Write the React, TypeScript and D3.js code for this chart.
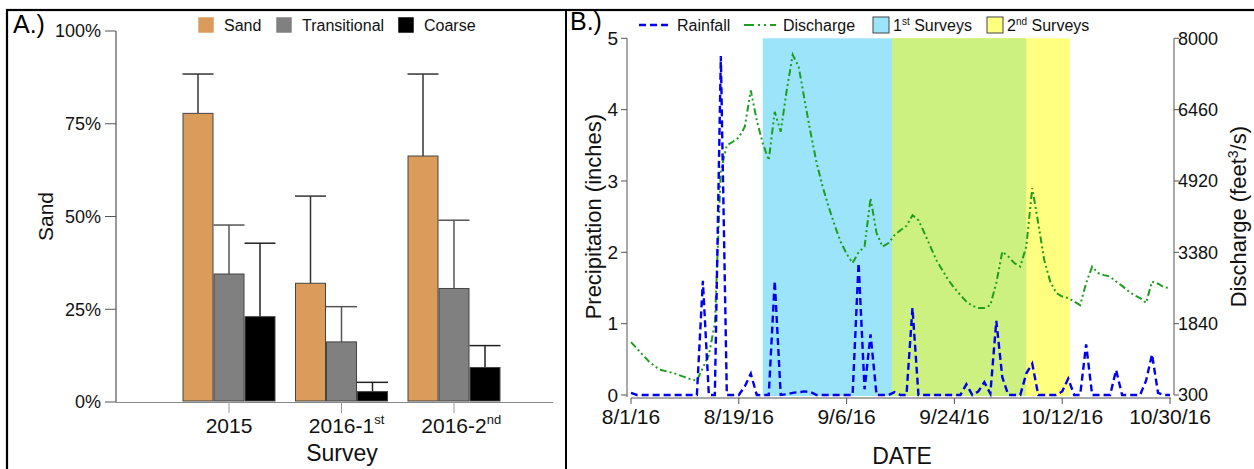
import React from "react";
import * as d3 from "d3";

// ---------- Panel A data ----------
const categoryBase = ["2015", "2016-1", "2016-2"];
const categorySup = ["", "st", "nd"];
const seriesNames = ["Sand", "Transitional", "Coarse"];
const sandMean = [0.778, 0.32, 0.663];
const sandUpper = [0.884, 0.555, 0.884];
const transMean = [0.345, 0.162, 0.306];
const transUpper = [0.477, 0.257, 0.49];
const coarseMean = [0.23, 0.028, 0.093];
const coarseUpper = [0.428, 0.053, 0.152];
const pctTicks = [0, 0.25, 0.5, 0.75, 1];

// ---------- Panel B data ----------
const startDate = "2016-08-01";
const rainfall = [
  0.03, 0, 0, 0, 0, 0, 0, 0, 0, 0, 0, 0, 1.6, 0, 0, 4.75, 0, 0, 0, 0.12,
  0.3, 0, 0, 0, 1.6, 0, 0.01, 0.03, 0.04, 0.05, 0.04, 0, 0, 0, 0, 0, 0, 0, 1.85, 0.08,
  0.85, 0, 0, 0, 0.04, 0, 0, 1.22, 0, 0, 0, 0, 0, 0, 0, 0, 0.15, 0, 0.05, 0.18,
  0.02, 1.04, 0.25, 0, 0, 0, 0.3, 0.44, 0, 0, 0, 0, 0.05, 0.23, 0, 0, 0.71, 0, 0, 0,
  0, 0.35, 0, 0, 0, 0, 0.2, 0.57, 0.03, 0, 0,
];
const discharge = [
  1440, 1301, 1162, 1024, 916, 839, 808, 777, 731, 685, 639, 608, 885, 1162, 1840, 5151, 5690, 5767, 5859, 6090,
  6876, 6229, 5736, 5367, 6414, 5983, 6876, 7646, 7384, 6660, 5952, 5305, 4797, 4366, 3965, 3611, 3349, 3149, 3380, 3503,
  4550, 3796, 3503, 3580, 3750, 3857, 3950, 4181, 4073, 3796, 3503, 3211, 2995, 2779, 2610, 2456, 2317, 2225, 2179, 2179,
  2240, 2718, 3395, 3288, 3149, 3072, 3503, 4766, 4011, 3211, 2749, 2502, 2425, 2394, 2317, 2240, 2718, 3072, 2933, 2887,
  2856, 2749, 2656, 2548, 2456, 2394, 2287, 2749, 2702, 2625, 2610,
];
const firstSurveys = ["2016-08-23T00:00", "2016-10-06T00:00"];
const secondSurveys = ["2016-09-13T14:00", "2016-10-13T07:00"];
const dateTicks = ["2016-08-01", "2016-08-19", "2016-09-06", "2016-09-24", "2016-10-12", "2016-10-30"];
const precipTicks = [0, 1, 2, 3, 4, 5];
const dischargeTicks = [300, 1840, 3380, 4920, 6460, 8000];

const FONT = "'Liberation Sans', Arial, Helvetica, sans-serif";
const colors = {
  sand: "#DB9C5B",
  trans: "#808080",
  coarse: "#000000",
  cyan: "#9BE4FA",
  yellow: "#FFFF80",
  green: "#CDF180",
  rain: "#0000F0",
  dis: "#1E9E1E",
};

function measure(text: string, size: number) {
  const c = document.createElement("canvas").getContext("2d");
  if (!c) return text.length * size * 0.55;
  c.font = `${size}px 'Liberation Sans', Arial`;
  return c.measureText(text).width;
}

function PanelA() {
  const y = d3.scaleLinear().domain([0, 1]).range([402, 31]);
  const x0 = d3.scaleBand().domain(categoryBase).range([172.75, 510.25]).padding(0);
  const x1 = d3.scaleBand().domain(seriesNames).range([-46.5, 46.5]).padding(0);
  const series = [
    { name: "Sand", mean: sandMean, upper: sandUpper, fill: colors.sand, err: "#333" },
    { name: "Transitional", mean: transMean, upper: transUpper, fill: colors.trans, err: "#555" },
    { name: "Coarse", mean: coarseMean, upper: coarseUpper, fill: colors.coarse, err: "#222" },
  ];
  const fmt = d3.format(".0%");
  const axisX = 116;
  const legend = [
    { name: "Sand", fill: colors.sand, sx: 198, tx: 224 },
    { name: "Transitional", fill: colors.trans, sx: 276, tx: 302 },
    { name: "Coarse", fill: colors.coarse, sx: 398, tx: 424 },
  ];
  return (
    <g fontFamily={FONT}>
      <text x={13} y={33} fontSize={25} fill="#000">A.)</text>
      {legend.map((l) => (
        <g key={l.name}>
          <rect x={l.sx} y={17} width={16} height={16} fill={l.fill} stroke="#fff" strokeWidth={0.5} />
          <text x={l.tx} y={31} fontSize={16} fill="#111">{l.name}</text>
        </g>
      ))}
      <line x1={axisX} x2={axisX} y1={y(1)} y2={y(0)} stroke="#333" strokeWidth={1} />
      {pctTicks.map((t) => (
        <g key={t}>
          <line x1={axisX - 11} x2={axisX} y1={y(t)} y2={y(t)} stroke="#555" strokeWidth={1} />
          <text x={axisX - 15} y={y(t)} dy="0.35em" textAnchor="end" fontSize={18} fill="#111">
            {fmt(t)}
          </text>
        </g>
      ))}
      <text transform={`translate(46,${(y(0) + y(1)) / 2}) rotate(-90)`} textAnchor="middle" dy="0.35em" fontSize={21} fill="#111">
        Sand
      </text>
      {series.map((s) =>
        categoryBase.map((c, i) => {
          const cx = (x0(c) as number) + x0.bandwidth() / 2;
          const bx = cx + (x1(s.name) as number);
          const bw = x1.bandwidth();
          const mid = bx + bw / 2;
          return (
            <g key={s.name + c}>
              <line x1={mid} x2={mid} y1={y(s.mean[i])} y2={y(s.upper[i])} stroke={s.err} strokeWidth={1.5} />
              <line x1={bx} x2={bx + bw} y1={y(s.upper[i])} y2={y(s.upper[i])} stroke={s.err} strokeWidth={1.5} />
              <rect x={bx + 0.5} y={y(s.mean[i])} width={bw - 1} height={y(0) - y(s.mean[i]) - 1} fill={s.fill} stroke="#444" strokeWidth={1} />
            </g>
          );
        })
      )}
      <line x1={axisX} x2={553} y1={y(0) + 0.5} y2={y(0) + 0.5} stroke="#888" strokeWidth={1.2} />
      {categoryBase.map((c, i) => {
        const cx = (x0(c) as number) + x0.bandwidth() / 2;
        const w = measure(c, 21);
        return (
          <g key={c}>
            <line x1={cx} x2={cx} y1={y(0)} y2={y(0) + 11} stroke="#999" strokeWidth={1} />
            <text x={cx - w / 2} y={433} fontSize={21} fill="#111">
              {c}
              {categorySup[i] ? (
                <tspan dy={-9} fontSize={13}>{categorySup[i]}</tspan>
              ) : null}
            </text>
          </g>
        );
      })}
      <text x={342} y={461} textAnchor="middle" fontSize={23} fill="#111">Survey</text>
    </g>
  );
}

function PanelB() {
  const parseDay = d3.timeParse("%Y-%m-%d");
  const parseDT = d3.timeParse("%Y-%m-%dT%H:%M");
  const start = parseDay(startDate) as Date;
  const days = rainfall.map((_, i) => d3.timeDay.offset(start, i));
  const x = d3
    .scaleTime()
    .domain([start, parseDay("2016-10-30") as Date])
    .range([631, 1170]);
  const yL = d3.scaleLinear().domain([0, 5]).range([395, 38.3]);
  const yR = d3.scaleLinear().domain([300, 8000]).range([395, 38.3]);
  const rainLine = d3
    .line<number>()
    .x((_, i) => x(days[i]))
    .y((d) => yL(d));
  const disLine = d3
    .line<number>()
    .x((_, i) => x(days[i]))
    .y((d) => yR(d));
  const s1 = firstSurveys.map((s) => parseDT(s) as Date);
  const s2 = secondSurveys.map((s) => parseDT(s) as Date);
  const ovStart = s2[0] > s1[0] ? s2[0] : s1[0];
  const ovEnd = s2[1] < s1[1] ? s2[1] : s1[1];
  const fmtDate = d3.timeFormat("%-m/%-d/%y");
  const top = yL(5);
  const bottom = 396;
  const leftAxis = 627;
  const rightAxis = 1174;
  return (
    <g fontFamily={FONT}>
      <text x={570} y={30} fontSize={25} fill="#000">B.)</text>
      <rect x={x(s1[0])} y={top} width={x(s1[1]) - x(s1[0])} height={bottom - top} fill={colors.cyan} />
      <rect x={x(s2[0])} y={top} width={x(s2[1]) - x(s2[0])} height={bottom - top} fill={colors.yellow} />
      <rect x={x(ovStart)} y={top} width={x(ovEnd) - x(ovStart)} height={bottom - top} fill={colors.green} />
      <path d={disLine(discharge) || ""} fill="none" stroke={colors.dis} strokeWidth={2} strokeDasharray="7,3,2,3,2,3" />
      <path d={rainLine(rainfall) || ""} fill="none" stroke={colors.rain} strokeWidth={2.4} strokeDasharray="7,4" />
      <line x1={leftAxis} x2={leftAxis} y1={top} y2={397} stroke="#555" strokeWidth={1} />
      {precipTicks.map((t) => (
        <g key={t}>
          <line x1={leftAxis - 6} x2={leftAxis} y1={yL(t)} y2={yL(t)} stroke="#555" />
          <text x={leftAxis - 9} y={yL(t)} dy="0.35em" textAnchor="end" fontSize={19} fill="#111">{t}</text>
        </g>
      ))}
      <text transform={`translate(593,${(yL(0) + yL(5)) / 2}) rotate(-90)`} textAnchor="middle" dy="0.35em" fontSize={22} fill="#111">
        Precipitation (inches)
      </text>
      <line x1={rightAxis} x2={rightAxis} y1={top} y2={yR(300)} stroke="#555" strokeWidth={1} />
      {dischargeTicks.map((t) => (
        <g key={t}>
          <line x1={rightAxis} x2={rightAxis + 5} y1={yR(t)} y2={yR(t)} stroke="#555" />
          <text x={rightAxis + 4} y={yR(t)} dy="0.35em" fontSize={18} fill="#111">{t}</text>
        </g>
      ))}
      <text transform={`translate(1238,${(yR(300) + yR(8000)) / 2}) rotate(-90)`} textAnchor="middle" dy="0.35em" fontSize={22} fill="#111">
        Discharge (feet<tspan dy={-8} fontSize={14}>3</tspan><tspan dy={8}>/s)</tspan>
      </text>
      <line x1={631} x2={1171} y1={398} y2={398} stroke="#555" strokeWidth={1} />
      {dateTicks.map((t) => {
        const d = parseDay(t) as Date;
        return (
          <g key={t}>
            <line x1={x(d)} x2={x(d)} y1={398} y2={404} stroke="#555" />
            <text x={x(d)} y={424} textAnchor="middle" fontSize={21} fill="#111">{fmtDate(d)}</text>
          </g>
        );
      })}
      <text x={902} y={464} textAnchor="middle" fontSize={23} fill="#111">DATE</text>
      <line x1={639} x2={671} y1={25} y2={25} stroke={colors.rain} strokeWidth={2.4} strokeDasharray="7,4" />
      <text x={677} y={31} fontSize={16} fill="#111">Rainfall</text>
      <line x1={744} x2={776} y1={25} y2={25} stroke={colors.dis} strokeWidth={2} strokeDasharray="10,4,2,4,2,4" />
      <text x={783} y={31} fontSize={16} fill="#111">Discharge</text>
      <rect x={873} y={17} width={16} height={16} fill={colors.cyan} stroke="#444" strokeWidth={1} />
      <text x={893} y={31} fontSize={16} fill="#111">
        1<tspan dy={-6} fontSize={10}>st</tspan><tspan dy={6}> Surveys</tspan>
      </text>
      <rect x={987} y={17} width={16} height={16} fill={colors.yellow} stroke="#444" strokeWidth={1} />
      <text x={1007} y={31} fontSize={16} fill="#111">
        2<tspan dy={-6} fontSize={10}>nd</tspan><tspan dy={6}> Surveys</tspan>
      </text>
    </g>
  );
}

export default function App() {
  return (
    <svg
      width={1254}
      height={469}
      viewBox="0 0 1254 469"
      style={{ position: "fixed", left: 0, top: 0, background: "#fff" }}
    >
      <rect x={0} y={0} width={1254} height={469} fill="#fff" />
      <PanelA />
      <PanelB />
      <rect x={7} y={10} width={1260} height={480} fill="none" stroke="#000" strokeWidth={2.2} />
      <line x1={566} x2={566} y1={10} y2={469} stroke="#000" strokeWidth={2} />
    </svg>
  );
}
